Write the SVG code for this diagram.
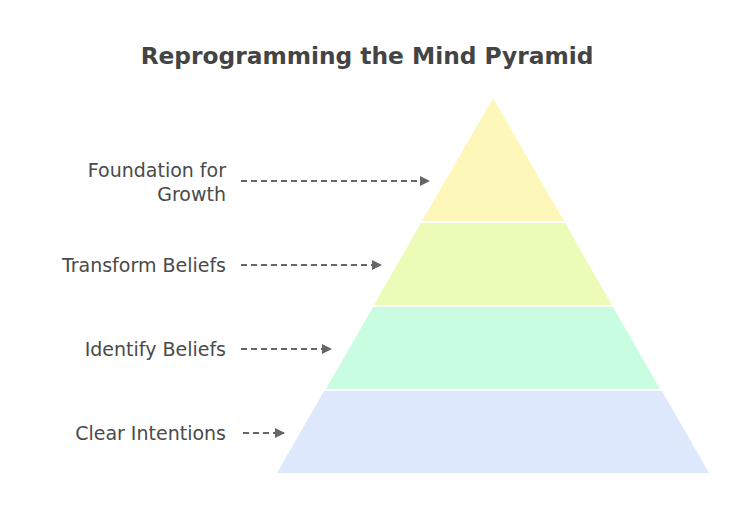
<svg xmlns="http://www.w3.org/2000/svg" width="737" height="525" viewBox="0 0 737 525">
<style>
.lbl{font-family:"DejaVu Sans","Liberation Sans",sans-serif;font-size:19px;fill:#4a4a4a;text-anchor:end}
.ttl{font-family:"DejaVu Sans","Liberation Sans",sans-serif;font-size:23.3px;font-weight:bold;fill:#444;text-anchor:middle}
.conn{stroke:#666;stroke-width:2;stroke-dasharray:6 4;fill:none}
</style>
<defs>
<marker id="ah" markerWidth="10" markerHeight="10" refX="9" refY="5" orient="auto" markerUnits="userSpaceOnUse">
<path d="M0,0 L10,5 L0,10 Z" fill="#666"/>
</marker>
</defs>
<rect width="737" height="525" fill="#fff"/>
<text class="ttl" x="367" y="64">Reprogramming the Mind Pyramid</text>
<g id="layer-top">
<polygon points="493,98 564,221 422,221" fill="#FEF7BA"/>
</g>
<g id="layer-transform">
<polygon points="421,223 565,223 612,305 374,305" fill="#EBFCB8"/>
</g>
<g id="layer-identify">
<polygon points="373,307 613,307 660,389 326,389" fill="#C9FDE2"/>
</g>
<g id="layer-clear">
<polygon points="324,391 662,391 709,473 277,473" fill="#DDE8FD"/>
</g>
<g id="label-foundation">
<text class="lbl" x="226" y="177">Foundation for</text>
<text class="lbl" x="226" y="201">Growth</text>
</g>
<g id="label-transform"><text class="lbl" x="226" y="272">Transform Beliefs</text></g>
<g id="label-identify"><text class="lbl" x="226" y="356">Identify Beliefs</text></g>
<g id="label-clear"><text class="lbl" x="226" y="440">Clear Intentions</text></g>
<g id="connectors">
<line class="conn" x1="241" y1="181" x2="429" y2="181" marker-end="url(#ah)"/>
<line class="conn" x1="241" y1="265" x2="381" y2="265" marker-end="url(#ah)"/>
<line class="conn" x1="241" y1="349" x2="331" y2="349" marker-end="url(#ah)"/>
<line class="conn" x1="243" y1="433" x2="284" y2="433" marker-end="url(#ah)"/>
</g>
</svg>
